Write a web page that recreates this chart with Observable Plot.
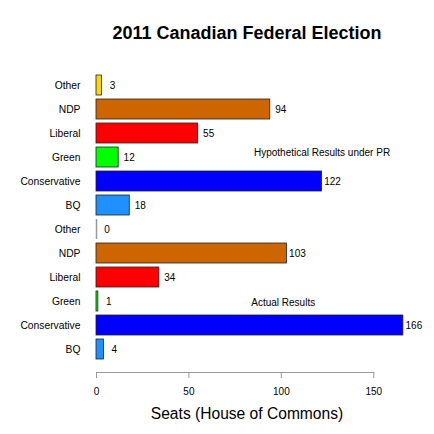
<!DOCTYPE html>
<html>
<head>
<meta charset="utf-8">
<script src="https://cdn.jsdelivr.net/npm/d3@7"></script>
<script src="https://cdn.jsdelivr.net/npm/@observablehq/plot@0.6"></script>
<style>
  body { margin: 0; background: white; font-family: "Liberation Sans", Arial, sans-serif; }
  #wrap { width: 434px; height: 434px; overflow: hidden; }
  .title { margin-left: 60px; width: 374px; height: 50px; box-sizing: border-box; padding-top: 22px;
           line-height: 22px; text-align: center; font-weight: bold; font-size: 18px; }
  .xlabel { margin-left: 60px; width: 374px; height: 34px; line-height: 28px; text-align: center; font-size: 15.6px; }
</style>
</head>
<body>
<div id="wrap">
  <div class="title">2011 Canadian Federal Election</div>
  <div id="chart"></div>
  <div class="xlabel">Seats (House of Commons)</div>
</div>
<script>
const parties = ["BQ", "Conservative", "Green", "Liberal", "NDP", "Other"];
const actualSeats = [4, 166, 1, 34, 103, 0];
const prSeats = [18, 122, 12, 55, 94, 3];
const partyColors = ["#1E90FF", "#0000FF", "#00FF00", "#FF0000", "#CD6600", "#FFD700"];
const xTicks = [0, 50, 100, 150];
const panelLabels = ["Hypothetical Results under PR", "Actual Results"];
const panelKeys = ["PR", "Actual"];
const panelLabelX = [122, 101];

// rows, top to bottom: PR group then actual group, each Other..BQ
let rows = [];
panelKeys.forEach((p, j) => {
  const seats = j == 0 ? prSeats : actualSeats;
  parties.forEach((party, i) => rows.push({key: p + "|" + party, party: party, seats: seats[i]}));
});
const yDomain = panelKeys.flatMap(p => parties.slice().reverse().map(party => p + "|" + party));

let notes = panelKeys.map((p, j) => ({key: p + "|Green", x: panelLabelX[j], label: panelLabels[j]}));

let chart = Plot.plot({
  width: 434,
  height: 350,
  marginLeft: 96,
  marginRight: 60.7,
  marginTop: 0,
  marginBottom: 28,
  x: {domain: [0, 150]},
  y: {domain: yDomain, range: [19.4, 314.6], padding: 0.16},
  color: {domain: parties, range: partyColors},
  style: {fontFamily: "'Liberation Sans', Arial, sans-serif", fontSize: "10px", color: "black", background: "white"},
  marks: [
    Plot.barX(rows, {x: "seats", y: "key", fill: "party", stroke: "#222", strokeWidth: 0.8}),
    // zero seats still shows a thin outline
    Plot.ruleX(rows.filter(d => d.seats === 0), {x: "seats", y1: "key", y2: "key", stroke: "#999", strokeWidth: 1.5}),
    Plot.text(rows, {x: "seats", y: "key", text: "seats", dx: 10.5, textAnchor: "middle", fontSize: 10}),
    Plot.text(notes.slice(0, 1), {x: "x", y: "key", text: "label", textAnchor: "middle", fontSize: 10, dy: -5}),
    Plot.text(notes.slice(1), {x: "x", y: "key", text: "label", textAnchor: "middle", fontSize: 10, dy: 1}),
    Plot.axisY({tickSize: 0, tickPadding: 16, tickFormat: k => k.split("|")[1], fontSize: 10.3, label: null}),
    Plot.axisX({ticks: xTicks, tickSize: 6, tickPadding: 9, stroke: "#999", label: null, fontSize: 10}),
    Plot.frame({anchor: "bottom", stroke: "#999"}),
  ],
});
d3.select("#chart").append(() => chart);
</script>
</body>
</html>
